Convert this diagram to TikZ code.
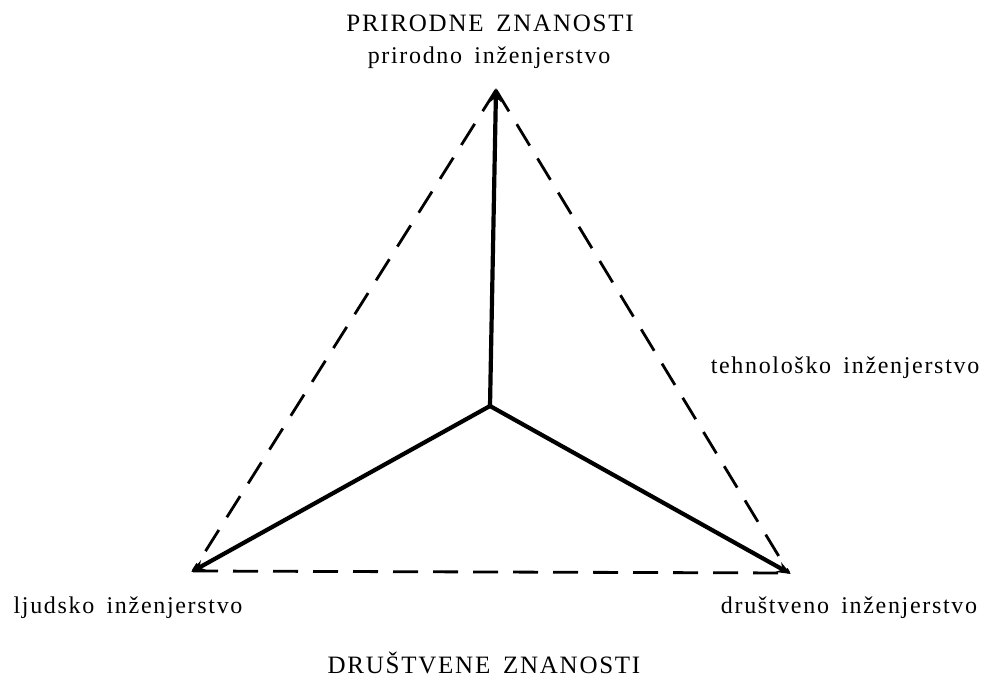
\documentclass[tikz,border=0pt]{standalone}
\usepackage{fontspec}
\setmainfont{Liberation Serif}[LetterSpace=7,WordSpace=1.6]
\usetikzlibrary{arrows.meta}
\begin{document}
\begin{tikzpicture}[x=1pt,y=-1pt,
  lbl/.style={font=\fontsize{24}{26}\selectfont, inner sep=0pt, anchor=base},
  titlelbl/.style={lbl, font=\fontsize{25}{27}\selectfont},
  solidline/.style={line width=4.2pt, -{Stealth[length=14pt,width=11pt]}, shorten >=-2pt},
  dashline/.style={line width=2.8pt, dash pattern=on 25pt off 15pt}]
\useasboundingbox (0,0) rectangle (986,680);
\coordinate (A) at (496,90);
\coordinate (O) at (490,406);
\coordinate (L) at (193,571);
\coordinate (R) at (789,573);
\draw[dashline] (A) -- (L);
\draw[dashline] (A) -- (R);
\draw[dashline] (L) -- (R);
\draw[solidline] (O) -- (A);
\draw[solidline] (O) -- (L);
\draw[solidline] (O) -- (R);
\node[titlelbl] (t1) at (490,31) {PRIRODNE ZNANOSTI};
\node[lbl] (t2) at (489,63) {prirodno inženjerstvo};
\node[lbl] (t3) at (845,373) {tehnološko inženjerstvo};
\node[lbl] (t4) at (128,613) {ljudsko inženjerstvo};
\node[lbl] (t5) at (849,613) {društveno inženjerstvo};
\node[titlelbl] (t6) at (484,673) {DRUŠTVENE ZNANOSTI};
\end{tikzpicture}
\end{document}
